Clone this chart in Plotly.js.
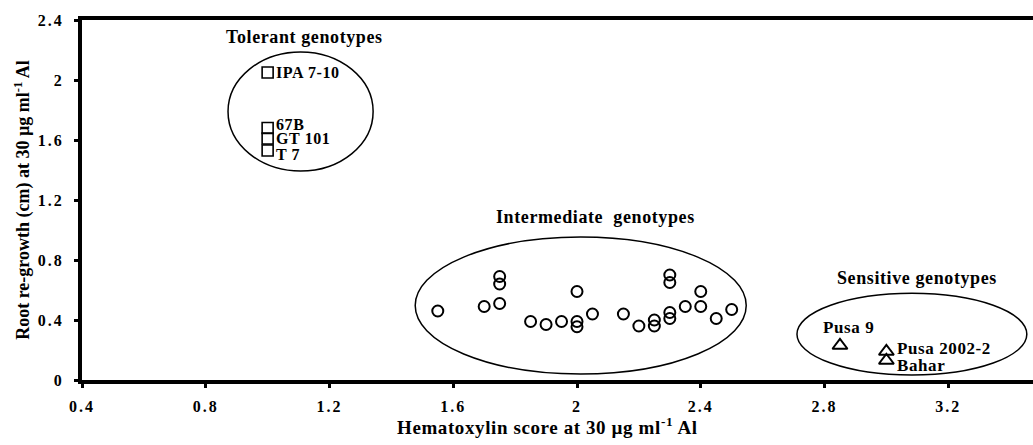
<!DOCTYPE html>
<html><head><meta charset="utf-8">
<script src="https://cdn.plot.ly/plotly-3.0.1.min.js"></script>
<style>
html,body{margin:0;padding:0;overflow:hidden;background:#fff;width:1033px;height:445px}
.xtick text, .ytick text {letter-spacing:2px}
.annotation-text {letter-spacing:0.6px}
</style>
</head><body><div id="chart" style="width:1075px;height:445px"></div>
<script>
// Tolerant genotypes (squares)
const tolerantNames = ["IPA 7-10", "67B", "GT 101", "T 7"];
const tolerantX = [1.0, 1.0, 1.0, 1.0];
const tolerantY = [2.05, 1.68, 1.61, 1.53];

// Intermediate genotypes (circles)
const intermediateX = [1.55, 1.70, 1.75, 1.75, 1.75, 1.85, 1.90, 1.95, 2.00, 2.00, 2.00, 2.05,
                       2.15, 2.20, 2.25, 2.25, 2.30, 2.30, 2.30, 2.30, 2.35, 2.40, 2.40, 2.45, 2.50];
const intermediateY = [0.46, 0.49, 0.51, 0.64, 0.69, 0.39, 0.37, 0.39, 0.39, 0.355, 0.59, 0.44,
                       0.44, 0.36, 0.40, 0.36, 0.41, 0.45, 0.65, 0.70, 0.49, 0.49, 0.59, 0.41, 0.47];

// Sensitive genotypes (triangles)
const sensitiveNames = ["Pusa 9", "Pusa 2002-2", "Bahar"];
const sensitiveX = [2.85, 3.0, 3.0];
const sensitiveY = [0.23, 0.19, 0.13];

// Axis ticks
const xTickVals = [0.4, 0.8, 1.2, 1.6, 2.0, 2.4, 2.8, 3.2];
const xTickText = ["0.4", "0.8", "1.2", "1.6", "2", "2.4", "2.8", "3.2"];
const yTickVals = [0, 0.4, 0.8, 1.2, 1.6, 2.0, 2.4];
const yTickText = ["0", "0.4", "0.8", "1.2", "1.6", "2", "2.4"];

// Titles
const xTitle = "Hematoxylin score at 30 µg ml<sup>-1</sup> Al";
const yTitle = "Root re-growth (cm) at 30 µg ml<sup>-1</sup> Al";

// Group labels and enclosing ellipses
const groupTitles = ["Tolerant genotypes", "Intermediate\u00a0 genotypes", "Sensitive genotypes"];
const groupTitleX = [1.12, 2.06, 3.10];
const groupTitleY = [2.29, 1.09, 0.68];
const ellipseX0 = [0.872, 1.477, 2.711];
const ellipseX1 = [1.341, 2.547, 3.454];
const ellipseY0 = [1.393, 0.04, 0.033];
const ellipseY1 = [2.187, 0.953, 0.578];

const FONT = "'Liberation Serif', 'Times New Roman', serif";
const labelFont = {family: FONT, size: 17, color: "#000", weight: "bold"};

const traces = [
  {
    x: tolerantX, y: tolerantY, type: "scatter", mode: "markers", cliponaxis: false,
    marker: {symbol: "square-open", size: 11, color: "#000", line: {width: 1.6, color: "#000"}},
    hoverinfo: "skip"
  },
  {
    x: intermediateX, y: intermediateY, type: "scatter", mode: "markers", cliponaxis: false,
    marker: {symbol: "circle-open", size: 11, color: "#000", line: {width: 2, color: "#000"}},
    hoverinfo: "skip"
  },
  {
    x: sensitiveX, y: sensitiveY, type: "scatter", mode: "markers", cliponaxis: false,
    marker: {symbol: "triangle-up-open", size: 13, color: "#000", line: {width: 2, color: "#000"}},
    hoverinfo: "skip"
  }
];

const shapes = groupTitles.map((g, i) => ({
  type: "circle", xref: "x", yref: "y",
  x0: ellipseX0[i], x1: ellipseX1[i], y0: ellipseY0[i], y1: ellipseY1[i],
  line: {color: "#000", width: 1.5}, fillcolor: "rgba(0,0,0,0)", layer: "below"
}));

const annotations = groupTitles.map((g, i) => ({
  text: g, x: groupTitleX[i], y: groupTitleY[i], xref: "x", yref: "y",
  showarrow: false, xanchor: "center", yanchor: "middle",
  font: {family: FONT, size: 18, color: "#000", weight: "bold"}
}));

// point labels, anchored on the data points
const tolShiftY = [0, 4, 0, -4];
tolerantNames.forEach((n, i) => annotations.push({
  text: n, x: tolerantX[i], y: tolerantY[i], xref: "x", yref: "y", showarrow: false,
  xanchor: "left", yanchor: "middle", xshift: 6, yshift: tolShiftY[i],
  font: {family: FONT, size: 16, color: "#000", weight: "bold"}
}));
const senAnchor = ["center", "left", "left"];
const senShiftX = [9, 9, 9];
const senShiftY = [18, 3, -5];
sensitiveNames.forEach((n, i) => annotations.push({
  text: n, x: sensitiveX[i], y: sensitiveY[i], xref: "x", yref: "y", showarrow: false,
  xanchor: senAnchor[i], yanchor: "middle", xshift: senShiftX[i], yshift: senShiftY[i], font: labelFont
}));

// x-axis title (placed as annotation so it can sit left of the plot-area centre, as in the original)
annotations.push({
  text: "<b>" + xTitle + "</b>", xref: "paper", yref: "paper", x: 0.47, y: -0.128,
  xanchor: "center", yanchor: "middle", showarrow: false,
  font: {family: FONT, size: 19, color: "#000"}
});

const axisCommon = {
  showgrid: false, zeroline: false, showline: true, linecolor: "#000", linewidth: 4,
  mirror: true, ticks: "outside", ticklen: 4, tickwidth: 3, tickcolor: "#000",
  tickfont: {family: FONT, size: 16, color: "#000", weight: "bold"}, fixedrange: true
};

const layout = {
  width: 1075, height: 445,
  margin: {l: 82, r: 3, t: 20, b: 65},
  paper_bgcolor: "#fff", plot_bgcolor: "#fff",
  showlegend: false,
  xaxis: Object.assign({}, axisCommon, {
    range: [0.4, 3.6], tickmode: "array", tickvals: xTickVals,
    ticktext: xTickText.map(t => "<b>" + t + "</b>"), ticklabelstandoff: 5,
    automargin: false
  }),
  yaxis: Object.assign({}, axisCommon, {
    range: [0, 2.4], tickmode: "array", tickvals: yTickVals,
    ticktext: yTickText.map(t => "<b>" + t + "</b>"), ticklabelstandoff: 7,
    title: {text: "<b>" + yTitle + "</b>", standoff: 4,
            font: {family: FONT, size: 18, color: "#000"}},
    automargin: false
  }),
  shapes: shapes,
  annotations: annotations
};

Plotly.newPlot("chart", traces, layout, {staticPlot: true, displayModeBar: false});
</script>
</body></html>
